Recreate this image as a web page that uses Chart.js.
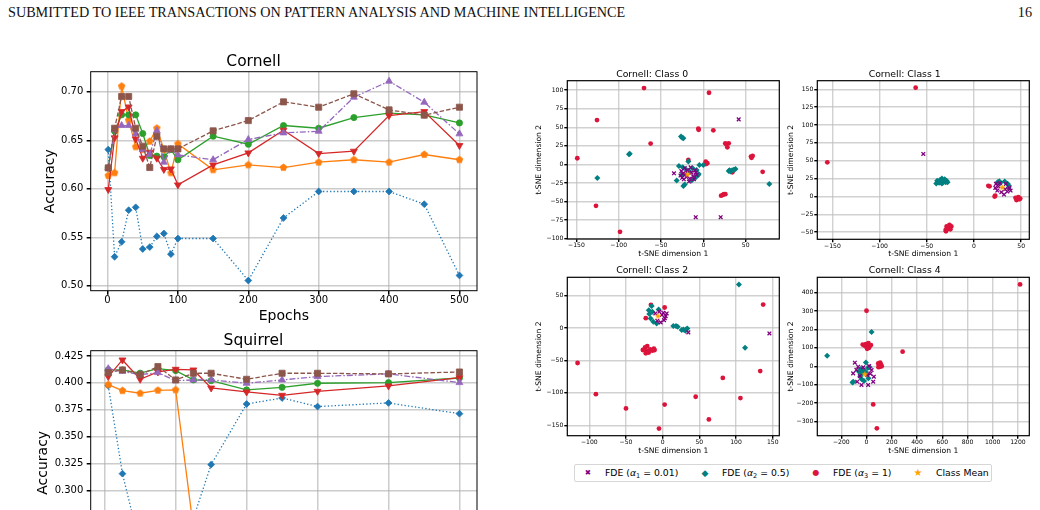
<!DOCTYPE html>
<html>
<head>
<meta charset="utf-8">
<script src="https://cdn.jsdelivr.net/npm/chart.js@4.4.1/dist/chart.umd.min.js"></script>
<style>
html, body { margin:0; padding:0; width:1040px; height:510px; overflow:hidden; background:#fff; }
canvas { position:absolute; }
#hdr { position:absolute; left:8px; top:5px; font:14.2px/14px "Liberation Serif", serif; color:#111; white-space:nowrap; }
#pg { position:absolute; right:8px; top:5px; font:14.2px/14px "Liberation Serif", serif; color:#111; }
#legend { position:absolute; left:574px; top:464px; width:416px; height:16px; border:1px solid #d6d6d6; border-radius:2px; font-family:"DejaVu Sans", sans-serif; }
#legend span { position:absolute; top:0; line-height:16px; white-space:nowrap; }
#legend .mk { width:12px; text-align:center; }
#legend .lt { font-size:9.3px; color:#000; }
#legend sub { font-size:6.5px; vertical-align:-1.5px; line-height:0; }
</style>
</head>
<body>
<div id="hdr">SUBMITTED TO IEEE TRANSACTIONS ON PATTERN ANALYSIS AND MACHINE INTELLIGENCE</div>
<div id="pg">16</div>

<canvas id="cornell"></canvas>
<canvas id="squirrel"></canvas>
<canvas id="c0"></canvas>
<canvas id="c1"></canvas>
<canvas id="c2"></canvas>
<canvas id="c4"></canvas>

<div id="legend">
  <span class="mk" style="left:7px;color:#800080;font-size:7.5px">&#x2716;</span>
  <span class="lt" style="left:30px">FDE (<i>α</i><sub>1</sub> = 0.01)</span>
  <span class="mk" style="left:124px;color:#008080;font-size:9px">&#x25C6;</span>
  <span class="lt" style="left:147px">FDE (<i>α</i><sub>2</sub> = 0.5)</span>
  <span class="mk" style="left:235px;color:#DC143C;font-size:8px">&#x25CF;</span>
  <span class="lt" style="left:258px">FDE (<i>α</i><sub>3</sub> = 1)</span>
  <span class="mk" style="left:337px;color:#FFA500;font-size:10px">&#x2605;</span>
  <span class="lt" style="left:361px">Class Mean</span>
</div>

<script>
// ---- accuracy curves ----
const cornellEpochs = [1,10,20,30,40,50,60,70,80,90,100,150,200,250,300,350,400,450,500];
const cornellBlue   = [0.6405,0.530,0.5454,0.578,0.581,0.538,0.540,0.551,0.554,0.5327,0.5488,0.5488,0.5055,0.570,0.5973,0.5973,0.5973,0.5842,0.5107];
const cornellOrange = [0.6137,0.6165,0.7058,0.6708,0.6433,0.6405,0.649,0.6625,0.6405,0.6165,0.6464,0.6196,0.6247,0.622,0.6275,0.630,0.6275,0.6354,0.630];
const cornellGreen  = [0.6216,0.6595,0.6763,0.6763,0.6763,0.657,0.6344,0.6337,0.633,0.6405,0.630,0.6543,0.646,0.6653,0.6625,0.6735,0.678,0.6763,0.668];
const cornellRed    = [0.5993,0.6526,0.6797,0.6845,0.6515,0.6316,0.6378,0.6316,0.620,0.6206,0.6041,0.6247,0.6371,0.6605,0.6364,0.6388,0.6756,0.6797,0.6447];
const cornellPurple = [0.6216,0.661,0.6653,0.6653,0.6567,0.6405,0.6354,0.6598,0.6275,0.6405,0.635,0.630,0.6509,0.6577,0.6594,0.6945,0.711,0.6893,0.6567];
const cornellBrown  = [0.6216,0.6625,0.6952,0.6952,0.6625,0.644,0.622,0.6543,0.6412,0.6412,0.6412,0.6598,0.6704,0.6897,0.6842,0.698,0.6814,0.676,0.6842];
const cornellXTicks = [0,100,200,300,400,500];
const cornellYTicks = [0.50,0.55,0.60,0.65,0.70];

const squirrelEpochs = [5,25,50,75,100,125,150,200,250,300,400,500];
const squirrelBlue   = [0.3974,0.3155,0.248,0.235,0.24,0.274,0.3239,0.3803,0.3859,0.3779,0.3813,0.3713];
const squirrelOrange = [0.3983,0.3927,0.3903,0.393,0.3934,0.265,0.245,0.25,0.248,0.252,0.25,0.255];
const squirrelGreen  = [0.412,0.412,0.409,0.4132,0.4114,0.4027,0.402,0.3934,0.3958,0.3996,0.4002,0.4045];
const squirrelRed    = [0.4058,0.4213,0.4033,0.4101,0.4126,0.412,0.3952,0.3915,0.3884,0.3921,0.3971,0.4048];
const squirrelPurple = [0.4132,0.4107,0.4076,0.4095,0.402,0.4027,0.4027,0.3996,0.4027,0.4058,0.4083,0.4002];
const squirrelBrown  = [0.4095,0.412,0.4076,0.4151,0.4027,0.4089,0.4089,0.4033,0.4089,0.4089,0.4083,0.4101];
const squirrelXTicks = [0,100,200,300,400,500];
const squirrelYTicks = [0.225,0.250,0.275,0.300,0.325,0.350,0.375,0.400,0.425];

// ---- t-SNE points [x, y] ----
const c0Alpha1 = [[41.8,60.6],[-9,-71],[20.5,-71],[-34.7,-11.9],[-26,-9],[-22,-5],[-15,-4],[-10,-8],[-8,-14],[-11,-20],[-17,-23],[-23,-20],[-27,-15],[-20,-17],[-14,-11],[-24,-12],[-19,-8],[-12,-16],[-16,-19],[-21,-13],[-25,-18],[-9,-11]];
const c0Alpha2 = [[-26.4,37.4],[-23.6,35.1],[-25,36],[-87.9,13.6],[-87,14.5],[-125.3,-18.1],[78,-26.2],[30,-9],[32,-9.5],[34,-8],[36,-7],[38,-6],[31,-8],[-28.8,-2],[-24.4,-3.8],[-17.7,3.8],[-12.6,-5.1],[-7.9,-7.4],[-5.5,-12.8],[-9.9,-18.6],[-13.8,-21.7],[-23.6,-28.9],[-22,-27],[-31.5,-21.7],[-25.6,-14.1],[-19.7,-7.4],[-4.7,-0.7],[0,-0.7],[-16,-10],[-6.5,-15]];
const c0Alpha3 = [[-70.1,102.7],[6.7,96.4],[-125.7,59.7],[-5.9,48.1],[-5.5,46.5],[11.8,45.9],[-62.3,28],[26,28.4],[30,28.4],[28.4,23],[27,27],[-149,8.3],[56.3,10.5],[58.3,11.4],[57,9],[-17.7,6],[2.8,3.8],[4.7,1.6],[3,0.5],[70.1,-10],[34.3,-10.5],[21,-42],[24.4,-40],[23,-41],[26,-40],[-126.9,-55.7],[-98.5,-90.6]];
const c0Mean = [[-18.5,-13.2]];

const c1Alpha1 = [[-53.7,59.5],[23.3,17.6],[22.6,12],[24.7,8.3],[29,5.9],[31.8,2.7],[35.3,6.9],[37.4,12],[33.9,17.6],[27.5,18.5],[38.8,8.3],[26,14],[33,10]];
const c1Alpha2 = [[-40,18],[-38,21],[-36,23],[-34,25],[-32,22],[-30,20],[-37,19],[-33,19],[-29,22],[-35,21],[-39,22],[-31,24],[-28,20],[-34,18],[-36,20],[26.8,21.3],[32.5,20.8],[35.7,17.6],[36.7,12],[37,15],[28,19],[25,20]];
const c1Alpha3 = [[-61.8,152.3],[-155.4,47.7],[15.2,14.8],[16.5,14.2],[21.9,-0.1],[22.5,1],[44,-2],[46,-3],[48,-4],[45,-5],[47,-1],[49,-3],[-29,-42],[-26,-40],[-29.7,-48.8],[-27,-45],[-24,-42],[-25,-46],[-28,-44],[-30,-47]];
const c1Mean = [[30,12.4]];

const c2Alpha1 = [[-4.5,24.9],[0.9,23.3],[4.1,18.2],[1.8,12.1],[-2.7,8.5],[-7.3,11],[-10,22.3],[3,15],[5.5,22.3],[-1,20],[35,-6.9],[145.5,-8.5]];
const c2Alpha2 = [[104,67],[112.3,-30.5],[-15,33.6],[-5.5,28.5],[-18.2,21.3],[-16.4,14.6],[-12.7,9.5],[-8.2,6.9],[-19,27.4],[-14,25],[14.5,2.8],[18.2,2.8],[20.5,1.8],[28.2,-2.3],[30.9,-4.4],[33.6,-0.8],[25.9,-3.3],[32,-2]];
const c2Alpha3 = [[137,36],[-16,35.6],[2.7,31.5],[-23,15],[-27,-34],[-24,-30],[-22,-35],[-19,-38],[-17,-33],[-14,-35],[-11,-34],[-21,-28],[-23,-39],[-12,-32],[-116,-54],[82,-77],[133,-66.4],[-91,-102],[45,-106],[106,-108],[-50,-124],[2.7,-118],[63,-141],[-5,-155]];
const c2Mean = [[-6.4,18.2]];

const c4Alpha1 = [[-92.6,19.2],[-66,-2.5],[-106,-38.8],[-74,-84],[-40,-102],[13,-102],[53,-84],[58,-57],[40,-20.7],[21,1],[-26,-6],[5,-48],[-53,-53],[-80,-20],[30,-40]];
const c4Alpha2 = [[40,186],[-312,57],[-111,-89],[-105,-85],[-45,-15],[-30,-20],[-5,20],[10,-10],[25,-5],[-50,-55],[-40,-70],[-20,-80],[15,-65],[-10,-30],[-35,-40],[5,-45],[-60,-30]];
const c4Alpha3 = [[1217,445],[0,302],[286,79],[-30,118],[-15,112],[0,105],[15,125],[25,110],[35,115],[5,95],[-5,120],[20,100],[93,15],[100,5],[108,20],[115,8],[120,0],[95,-5],[105,-3],[53,-208],[82,-338]];
const c4Mean = [[-13,-44]];

const c0XTicks = [-150,-100,-50,0,50];
const c0YTicks = [-100,-75,-50,-25,0,25,50,75,100];
const c1XTicks = [-150,-100,-50,0,50];
const c1YTicks = [-50,-25,0,25,50,75,100,125,150];
const c2XTicks = [-100,-50,0,50,100,150];
const c2YTicks = [-150,-100,-50,0,50];
const c4XTicks = [-200,0,200,400,600,800,1000,1200];
const c4YTicks = [-300,-200,-100,0,100,200,300,400];

Chart.defaults.font.family = '"DejaVu Sans", sans-serif';
Chart.defaults.color = '#000';
Chart.defaults.animation = false;

// filled marker images (pentagon, star)
function shape(n, rOut, rIn, color, size) {
  const c = document.createElement('canvas');
  c.width = c.height = size;
  const g = c.getContext('2d');
  g.fillStyle = color;
  g.beginPath();
  const k = rIn ? n * 2 : n;
  for (let i = 0; i < k; i++) {
    const r = rIn && i % 2 ? rIn : rOut;
    const a = -Math.PI / 2 + i * 2 * Math.PI / k;
    g.lineTo(size / 2 + r * Math.cos(a), size / 2 + r * Math.sin(a));
  }
  g.closePath();
  g.fill();
  return c;
}
const pentagon = shape(5, 3.9, 0, '#ff7f0e', 9);
const star = shape(5, 3.6, 1.5, '#FFA500', 9);

const frame = {
  id: 'frame',
  afterDatasetsDraw(chart, args, opts) {
    const {ctx, chartArea: a} = chart;
    ctx.save();
    ctx.strokeStyle = '#000';
    ctx.lineWidth = opts.w || 1;
    ctx.strokeRect(a.left, a.top, a.right - a.left, a.bottom - a.top);
    ctx.restore();
  }
};

const signed = v => v < 0 ? '\u2212' + Math.abs(v) : String(v);

function makeChart(id, s, type, datasets) {
  const tH = s.titleSize * 1.2, lH = s.labelSize * 1.2;
  const bottom = s.xTitleY + lH / 2;
  const W = s.box.r - s.box.l;
  const cvH = Math.ceil(bottom - s.box.t);
  const cv = document.getElementById(id);
  cv.width = W; cv.height = cvH;
  cv.style.left = s.box.l + 'px';
  cv.style.top = s.box.t + 'px';
  const tPadB = s.area.t - s.titleY - tH / 2;
  const tPadT = s.area.t - s.box.t - tH - tPadB;
  const gridOpts = { color: s.gridC, lineWidth: s.gridW, tickColor: '#000', tickLength: s.tickLen, drawTicks: true };
  return new Chart(cv, {
    type: type,
    data: { datasets: datasets },
    options: {
      responsive: false,
      layout: { padding: { left: 0, top: 0, right: s.box.r - s.area.r, bottom: cvH - (bottom - s.box.t) } },
      plugins: {
        legend: { display: false },
        tooltip: { enabled: false },
        title: { display: true, text: s.title, color: '#000', font: { size: s.titleSize, weight: 'normal' }, padding: { top: tPadT, bottom: tPadB } },
        frame: { w: s.frameW }
      },
      scales: {
        x: {
          type: 'linear', min: s.x.min, max: s.x.max,
          afterBuildTicks: sc => { sc.ticks = s.x.ticks.map(v => ({ value: v })); },
          afterFit: sc => { sc.height = bottom - s.area.b; },
          ticks: { font: { size: s.tickSize }, padding: s.xTickPad, maxRotation: 0, autoSkip: false, callback: s.x.fmt },
          grid: gridOpts,
          border: { display: false },
          title: { display: true, text: s.xTitle, font: { size: s.labelSize }, padding: { top: 0, bottom: 0 } }
        },
        y: {
          type: 'linear', min: s.y.min, max: s.y.max,
          afterBuildTicks: sc => { sc.ticks = s.y.ticks.map(v => ({ value: v })); },
          afterFit: sc => { sc.width = s.area.l - s.box.l; },
          ticks: { font: { size: s.tickSize }, padding: s.yTickPad, autoSkip: false, callback: s.y.fmt },
          grid: gridOpts,
          border: { display: false },
          title: { display: true, text: s.yTitle, font: { size: s.labelSize }, padding: { top: s.yTitleX - s.box.l - lH / 2, bottom: 0 } }
        }
      }
    },
    plugins: [frame]
  });
}

// ---- line charts ----
const lineStyles = [
  { color: '#1f77b4', dash: [1.3, 2.2], point: 'rectRot', r: 3.4 },
  { color: '#ff7f0e', dash: [], point: pentagon, r: 4 },
  { color: '#2ca02c', dash: [], point: 'circle', r: 3.1 },
  { color: '#d62728', dash: [], point: 'triangle', r: 4, rot: 180 },
  { color: '#9467bd', dash: [6, 2, 1.5, 2], point: 'triangle', r: 4 },
  { color: '#8c564b', dash: [4.5, 2], point: 'rect', r: 4.3 }
];

function lineSets(epochs, series) {
  return series.map((vals, i) => {
    const st = lineStyles[i];
    return {
      data: epochs.map((e, j) => ({ x: e, y: vals[j] })),
      borderColor: st.color,
      backgroundColor: st.color,
      borderWidth: 1.3,
      borderDash: st.dash,
      tension: 0,
      pointStyle: st.point,
      pointRadius: st.r,
      pointRotation: st.rot || 0,
      pointBorderWidth: 0.8,
      pointBorderColor: st.color,
      pointBackgroundColor: st.color,
      order: series.length - i
    };
  });
}

const lineBase = {
  titleSize: 15.5, labelSize: 14, tickSize: 10,
  xTitle: 'Epochs', yTitle: 'Accuracy',
  tickLen: 4, xTickPad: 0, yTickPad: 3.4,
  gridC: 'rgba(176,176,176,0.65)', gridW: 1.5, frameW: 1
};

makeChart('cornell', Object.assign({}, lineBase, {
  box: { l: 30, t: 46, r: 490 },
  area: { l: 90.7, t: 71.7, r: 477, b: 290.7 },
  title: 'Cornell', titleY: 61.7, xTitleY: 316.2, yTitleX: 50,
  x: { min: -23.95, max: 524.95, ticks: cornellXTicks, fmt: v => String(v) },
  y: { min: 0.4950, max: 0.7208, ticks: cornellYTicks, fmt: v => v.toFixed(2) }
}), 'line', lineSets(cornellEpochs, [cornellBlue, cornellOrange, cornellGreen, cornellRed, cornellPurple, cornellBrown]));

makeChart('squirrel', Object.assign({}, lineBase, {
  box: { l: 30, t: 326, r: 490 },
  area: { l: 90.7, t: 350.7, r: 477, b: 575 },
  title: 'Squirrel', titleY: 340.8, xTitleY: 600, yTitleX: 43.5,
  x: { min: -19.75, max: 524.75, ticks: squirrelXTicks, fmt: v => String(v) },
  y: { min: 0.2212, max: 0.4299, ticks: squirrelYTicks, fmt: v => v.toFixed(3) }
}), 'line', lineSets(squirrelEpochs, [squirrelBlue, squirrelOrange, squirrelGreen, squirrelRed, squirrelPurple, squirrelBrown]));

// ---- scatter charts ----
function pts(arr) { return arr.map(p => ({ x: p[0], y: p[1] })); }
function scatterSets(a1, a2, a3, mean) {
  return [
    { data: pts(a1), pointStyle: 'crossRot', pointRadius: 2.6, pointBorderWidth: 1.3, pointBorderColor: '#800080', pointBackgroundColor: '#800080', order: 1 },
    { data: pts(a2), pointStyle: 'rectRot', pointRadius: 3, pointBorderWidth: 0, pointBackgroundColor: '#008080', pointBorderColor: '#008080', order: 2 },
    { data: pts(a3), pointStyle: 'circle', pointRadius: 2.4, pointBorderWidth: 0, pointBackgroundColor: '#DC143C', pointBorderColor: '#DC143C', order: 3 },
    { data: pts(mean), pointStyle: star, pointRadius: 4, order: 0 }
  ];
}

const scatBase = {
  titleSize: 9.3, labelSize: 7.6, tickSize: 6.1,
  xTitle: 't-SNE dimension 1', yTitle: 't-SNE dimension 2',
  tickLen: 3, xTickPad: 0, yTickPad: 1,
  gridC: 'rgba(190,190,190,0.7)', gridW: 1.4, frameW: 1.2
};

makeChart('c0', Object.assign({}, scatBase, {
  box: { l: 525, t: 58, r: 785 },
  area: { l: 567.3, t: 80.7, r: 779.3, b: 239 },
  title: 'Cornell: Class 0', titleY: 74.2, xTitleY: 254.3, yTitleX: 539.3,
  x: { min: -160.8, max: 89.8, ticks: c0XTicks, fmt: signed },
  y: { min: -100.3, max: 112.6, ticks: c0YTicks, fmt: signed }
}), 'scatter', scatterSets(c0Alpha1, c0Alpha2, c0Alpha3, c0Mean));

makeChart('c1', Object.assign({}, scatBase, {
  box: { l: 780, t: 58, r: 1035 },
  area: { l: 817.3, t: 80.7, r: 1029.3, b: 239.3 },
  title: 'Cornell: Class 1', titleY: 74.2, xTitleY: 254.3, yTitleX: 790.7,
  x: { min: -166, max: 58.6, ticks: c1XTicks, fmt: signed },
  y: { min: -60, max: 162, ticks: c1YTicks, fmt: signed }
}), 'scatter', scatterSets(c1Alpha1, c1Alpha2, c1Alpha3, c1Mean));

makeChart('c2', Object.assign({}, scatBase, {
  box: { l: 525, t: 258, r: 785 },
  area: { l: 567.3, t: 277.3, r: 779.3, b: 435.7 },
  title: 'Cornell: Class 2', titleY: 270.8, xTitleY: 451.5, yTitleX: 539.3,
  x: { min: -130, max: 159, ticks: c2XTicks, fmt: signed },
  y: { min: -166, max: 78, ticks: c2YTicks, fmt: signed }
}), 'scatter', scatterSets(c2Alpha1, c2Alpha2, c2Alpha3, c2Mean));

makeChart('c4', Object.assign({}, scatBase, {
  box: { l: 780, t: 258, r: 1035 },
  area: { l: 817.3, t: 277.3, r: 1029.3, b: 435.7 },
  title: 'Cornell: Class 4', titleY: 270.8, xTitleY: 451.5, yTitleX: 790.7,
  x: { min: -390, max: 1290, ticks: c4XTicks, fmt: signed },
  y: { min: -378, max: 484, ticks: c4YTicks, fmt: signed }
}), 'scatter', scatterSets(c4Alpha1, c4Alpha2, c4Alpha3, c4Mean));
</script>
</body>
</html>
